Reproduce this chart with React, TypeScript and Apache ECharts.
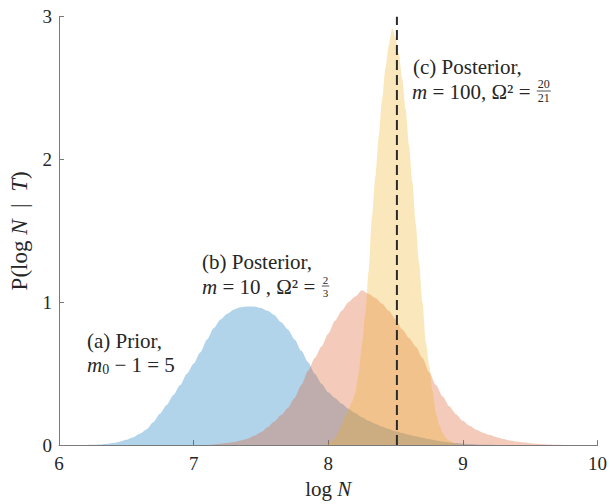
import React, { useEffect, useRef } from "react";
import * as echarts from "echarts";

// ---- data ----
const X_MIN = 6;
const X_MAX = 10;
const Y_MIN = 0;
const Y_MAX = 3;
const TRUE_LOG_N = 8.51;

// (a) Prior histogram: bin centres start at 6.20, width 0.05
const priorStart = 6.2;
const priorBinWidth = 0.05;
const priorDensity = [
  0, 0.002, 0.004, 0.008, 0.014, 0.024, 0.037, 0.055, 0.08, 0.11, 0.16, 0.22,
  0.28, 0.35, 0.42, 0.5, 0.57, 0.65, 0.74, 0.82, 0.88, 0.92, 0.95, 0.965, 0.97,
  0.97, 0.96, 0.94, 0.91, 0.86, 0.81, 0.74, 0.66, 0.58, 0.5, 0.43, 0.37, 0.33,
  0.29, 0.255, 0.225, 0.195, 0.17, 0.15, 0.13, 0.113, 0.097, 0.085, 0.073,
  0.062, 0.052, 0.042, 0.033, 0.025, 0.019, 0.014, 0.01, 0.007, 0.005, 0.003,
  0.002, 0,
];

// (b) Posterior m = 10: bin centres start at 7.10, width 0.05
const postBStart = 7.1;
const postBBinWidth = 0.05;
const postBDensity = [
  0, 0.005, 0.01, 0.015, 0.022, 0.032, 0.045, 0.065, 0.09, 0.125, 0.165, 0.21,
  0.26, 0.33, 0.42, 0.52, 0.61, 0.69, 0.78, 0.87, 0.94, 1.0, 1.04, 1.085, 1.06,
  1.03, 0.99, 0.94, 0.88, 0.81, 0.75, 0.69, 0.61, 0.51, 0.42, 0.34, 0.27, 0.215,
  0.17, 0.135, 0.108, 0.087, 0.07, 0.055, 0.043, 0.033, 0.025, 0.018, 0.013,
  0.009, 0.006, 0.004, 0.002, 0,
];

// (c) Posterior m = 100: bin centres start at 7.975, width 0.025
const postCStart = 7.975;
const postCBinWidth = 0.025;
const postCDensity = [
  0, 0.01, 0.025, 0.05, 0.09, 0.14, 0.2, 0.25, 0.3, 0.36, 0.5, 0.7, 0.92, 1.22,
  1.6, 1.88, 2.16, 2.42, 2.64, 2.8, 2.92, 2.85, 2.74, 2.56, 2.35, 2.1, 1.84,
  1.55, 1.27, 1.0, 0.72, 0.56, 0.38, 0.22, 0.14, 0.085, 0.05, 0.03, 0.018, 0.01,
  0.004, 0,
];

const SERIF = "Liberation Serif";
const TEXT_COLOR = "#262626";

function toPoints(start: number, width: number, values: number[]) {
  return values.map((v, i) => [+(start + i * width).toFixed(4), v]);
}

function measure(text: string, font: string) {
  const ctx = document.createElement("canvas").getContext("2d")!;
  ctx.font = font;
  return ctx.measureText(text).width;
}

function fraction(cx: number, barY: number, num: string, den: string, size: number) {
  const w = Math.max(measure(num, `${size}px ${SERIF}`), measure(den, `${size}px ${SERIF}`)) + 2;
  return [
    {
      type: "text",
      x: cx,
      y: barY - 1,
      style: { text: num, fontFamily: SERIF, fontSize: size, fill: TEXT_COLOR, align: "center", verticalAlign: "bottom" },
    },
    {
      type: "line",
      shape: { x1: cx - w / 2, y1: barY, x2: cx + w / 2, y2: barY },
      style: { stroke: TEXT_COLOR, lineWidth: 0.8 },
    },
    {
      type: "text",
      x: cx,
      y: barY + 1,
      style: { text: den, fontFamily: SERIF, fontSize: size, fill: TEXT_COLOR, align: "center", verticalAlign: "top" },
    },
  ];
}

export default function App() {
  const ref = useRef<HTMLDivElement>(null);

  useEffect(() => {
    document.body.style.margin = "0";
    const chart = echarts.init(ref.current!, null, { renderer: "svg" });

    const FS = 21;
    const rich = {
      r: { fontFamily: SERIF, fontSize: FS, color: TEXT_COLOR },
      i: { fontFamily: SERIF, fontSize: FS, fontStyle: "italic", color: TEXT_COLOR },
      sub: { fontFamily: SERIF, fontSize: 14, color: TEXT_COLOR, padding: [8, 0, 0, 0] },
    };
    const fN = `${FS}px ${SERIF}`;
    const fI = `italic ${FS}px ${SERIF}`;

    const cLine2W = measure("m", fI) + measure(" = 100, Ω² = ", fN);
    const bLine2W = measure("m", fI) + measure(" = 10 , Ω² = ", fN);

    const textLine = (x: number, y: number, text: string) => ({
      type: "text",
      x,
      y,
      style: { text, rich, fontFamily: SERIF, fontSize: FS, fill: TEXT_COLOR, align: "left", verticalAlign: "middle" },
    });

    const cX = 413;
    const bX = 202;
    const aX = 87;

    const histSeries = (name: string, start: number, width: number, values: number[], rgb: string, z: number) => ({
      name,
      type: "line",
      smooth: 0.25,
      smoothMonotone: "x",
      data: toPoints(start, width, values),
      showSymbol: false,
      lineStyle: { width: 0, opacity: 0 },
      areaStyle: { color: rgb, opacity: 0.3 },
      z,
    });

    const option: any = {
      animation: false,
      grid: { left: 54.5, right: 11, top: 16.7, bottom: 58.7, containLabel: false },
      xAxis: {
        type: "value",
        min: X_MIN,
        max: X_MAX,
        interval: 1,
        name: "{r|log }{i|N}",
        nameLocation: "middle",
        nameGap: 31,
        nameTextStyle: { rich: { r: { fontFamily: SERIF, fontSize: 21, color: TEXT_COLOR }, i: { fontFamily: SERIF, fontSize: 21, fontStyle: "italic", color: TEXT_COLOR } } },
        axisLine: { show: true, lineStyle: { color: "#7a7a7a", width: 1 } },
        axisTick: { show: true, inside: true, length: 5, lineStyle: { color: "#7a7a7a" } },
        axisLabel: { fontFamily: SERIF, fontSize: 19, color: TEXT_COLOR, margin: 9 },
        splitLine: { show: false },
      },
      yAxis: {
        type: "value",
        min: Y_MIN,
        max: Y_MAX,
        interval: 1,
        name: "{r|P(log }{i|N}{r|  |  }{i|T}{r|)}",
        nameLocation: "middle",
        nameRotate: 90,
        nameGap: 28,
        nameTextStyle: { rich: { r: { fontFamily: SERIF, fontSize: 23, color: TEXT_COLOR }, i: { fontFamily: SERIF, fontSize: 23, fontStyle: "italic", color: TEXT_COLOR } } },
        axisLine: { show: true, lineStyle: { color: "#7a7a7a", width: 1 } },
        axisTick: { show: true, inside: true, length: 5, lineStyle: { color: "#7a7a7a" } },
        axisLabel: { fontFamily: SERIF, fontSize: 19, color: TEXT_COLOR, margin: 7 },
        splitLine: { show: false },
      },
      series: [
        histSeries("Prior", priorStart, priorBinWidth, priorDensity, "rgb(0,114,189)", 2),
        histSeries("Posterior m=10", postBStart, postBBinWidth, postBDensity, "rgb(217,83,25)", 3),
        histSeries("Posterior m=100", postCStart, postCBinWidth, postCDensity, "rgb(237,177,32)", 4),
        {
          name: "True value",
          type: "line",
          data: [
            [TRUE_LOG_N, Y_MIN],
            [TRUE_LOG_N, Y_MAX],
          ],
          showSymbol: false,
          lineStyle: { color: "#2b2b2b", width: 2, type: [10, 5] },
          z: 5,
        },
      ],
      graphic: [
        textLine(cX, 67, "{r|(c) Posterior,}"),
        textLine(cX - 1, 92, "{i|m}{r| = 100, Ω² = }"),
        ...fraction(cX - 1 + cLine2W + 8, 91, "20", "21", 12),
        textLine(bX, 262, "{r|(b) Posterior,}"),
        textLine(bX, 287, "{i|m}{r| = 10 , Ω² = }"),
        ...fraction(bX + bLine2W + 5, 286, "2", "3", 11),
        textLine(aX, 341, "{r|(a) Prior,}"),
        textLine(aX, 365, "{i|m}{sub|0}{r| − 1 = 5}"),
      ],
    };

    chart.setOption(option);
    return () => chart.dispose();
  }, []);

  return <div ref={ref} style={{ width: 610, height: 504 }} />;
}
